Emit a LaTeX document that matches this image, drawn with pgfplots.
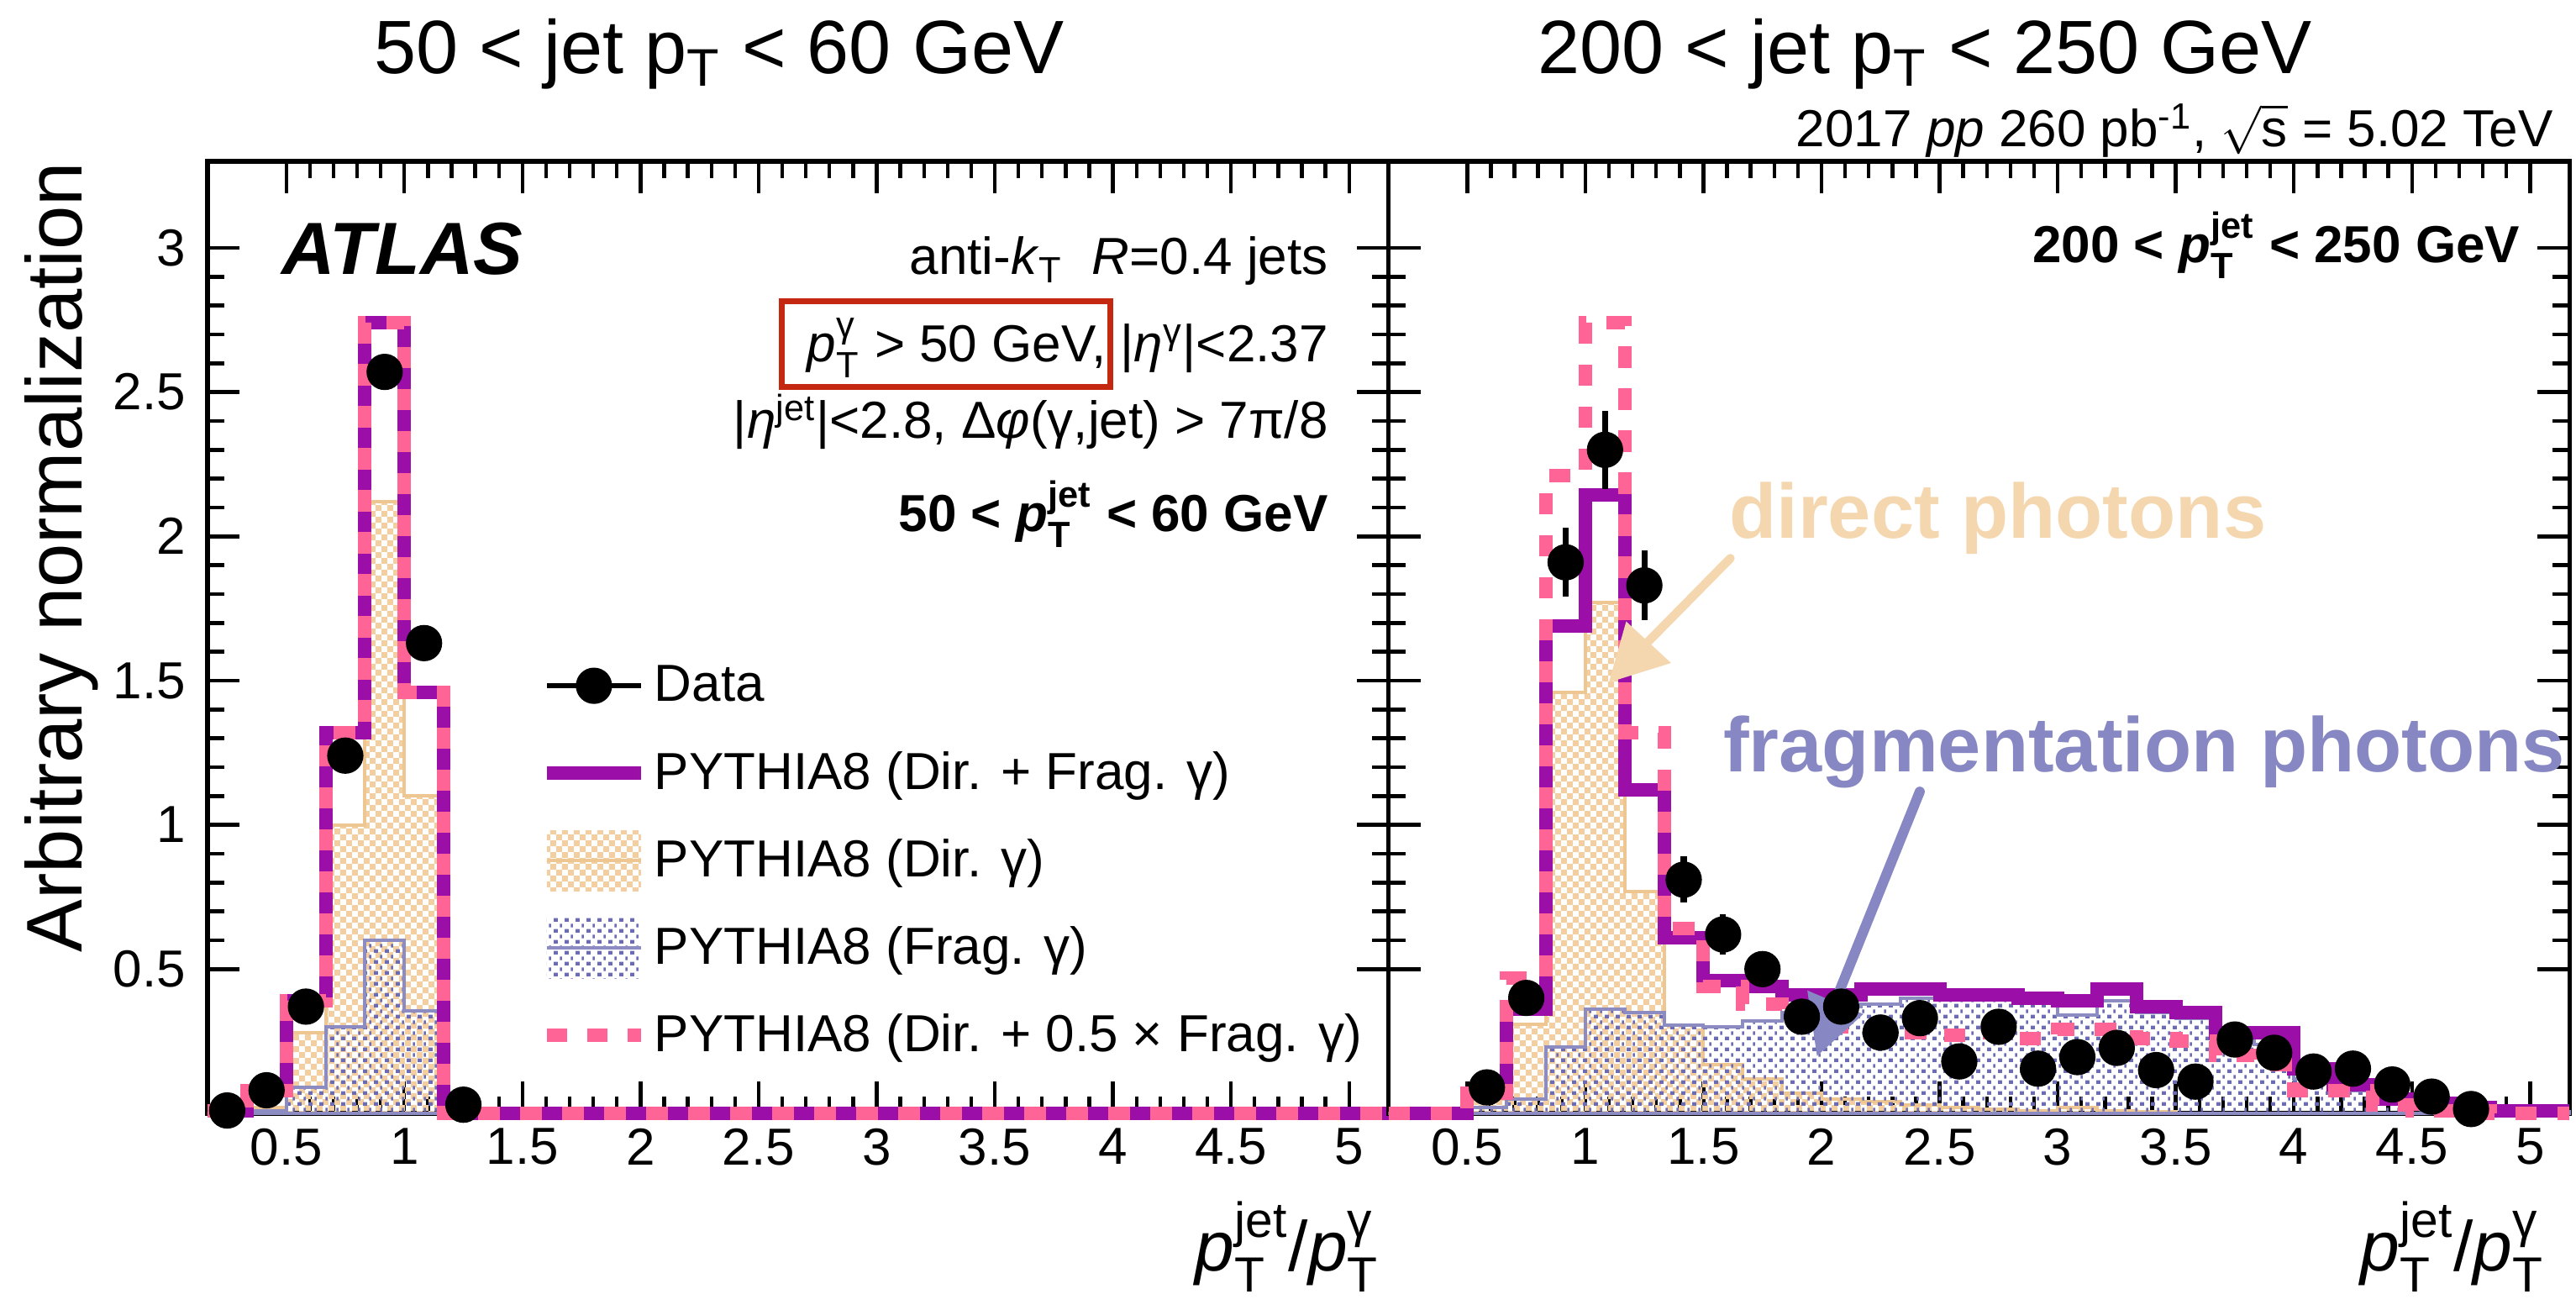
\documentclass[border=0pt]{standalone}
\usepackage{fontspec}
\setmainfont{Liberation Sans}
\usepackage{amsmath}
\usepackage{pgfplots}
\pgfplotsset{compat=1.18}
\usepackage{pgfplotstable}
\usetikzlibrary{patterns}

\definecolor{purp}{RGB}{155,14,168}
\definecolor{pinkc}{RGB}{255,100,150}
\definecolor{dirfill}{RGB}{242,206,160}
\definecolor{dirline}{RGB}{238,198,145}
\definecolor{fragc}{RGB}{108,108,182}
\definecolor{fragline}{RGB}{140,140,195}
\definecolor{dirtext}{RGB}{245,215,175}
\definecolor{fragtext}{RGB}{135,135,195}
\definecolor{redbox}{RGB}{196,40,16}

\pgfdeclarepatternformonly{finechecker}{\pgfqpoint{0pt}{0pt}}{\pgfqpoint{3.6pt}{3.6pt}}{\pgfqpoint{3.6pt}{3.6pt}}{%
  \pgfpathrectangle{\pgfqpoint{0pt}{0pt}}{\pgfqpoint{1.8pt}{1.8pt}}%
  \pgfpathrectangle{\pgfqpoint{1.8pt}{1.8pt}}{\pgfqpoint{1.8pt}{1.8pt}}%
  \pgfusepath{fill}}
\pgfdeclarepatternformonly{fragdots}{\pgfqpoint{0pt}{0pt}}{\pgfqpoint{3.3pt}{3.2pt}}{\pgfqpoint{3.3pt}{3.2pt}}{%
  \pgfpathrectangle{\pgfqpoint{0pt}{0pt}}{\pgfqpoint{1.3pt}{1.1pt}}%
  \pgfpathrectangle{\pgfqpoint{1.95pt}{1.6pt}}{\pgfqpoint{0.65pt}{1.1pt}}%
  \pgfusepath{fill}}

\newcommand{\sst}[2]{\ensuremath{^{\text{#1}}_{\text{#2}}}}
\newcommand{\rootfont}{\fontsize{15.5}{18}\selectfont}

% left panel: 50 < pT jet < 60 GeV  (x = left bin edge)
\pgfplotstableread{
x dirfrag dir frag half
0.16667 0.01 0.00 0.00 0.01
0.33333 0.08 0.02 0.01 0.08
0.5 0.39 0.28 0.09 0.39
0.66667 1.32 1.00 0.30 1.32
0.83333 2.74 2.12 0.60 2.74
1.0 1.46 1.10 0.355 1.46
1.16667 0 0 0 0
5.16667 0 0 0 0
}\histL

\pgfplotstableread{
x y e
0.25 0.01 0.005
0.41667 0.08 0.01
0.58333 0.37 0.02
0.75 1.24 0.03
0.91667 2.57 0.04
1.08333 1.63 0.03
1.25 0.03 0.005
}\dataL

% right panel: 200 < pT jet < 250 GeV
\pgfplotstableread{
x dirfrag dir frag half
0.16667 0 0 0 0
0.33333 0 0 0 0
0.5 0.07 0.05 0.02 0.07
0.66667 0.36 0.31 0.05 0.47
0.83333 1.69 1.46 0.23 2.21
1.0 2.145 1.77 0.36 2.74
1.16667 1.12 0.77 0.35 1.32
1.33333 0.61 0.305 0.305 0.64
1.5 0.46 0.17 0.30 0.44
1.66667 0.44 0.12 0.32 0.38
1.83333 0.41 0.07 0.35 0.33
2.0 0.41 0.05 0.37 0.30
2.16667 0.43 0.04 0.38 0.30
2.33333 0.43 0.03 0.40 0.28
2.5 0.41 0.02 0.40 0.27
2.66667 0.41 0.015 0.40 0.28
2.83333 0.40 0.01 0.39 0.26
3.0 0.39 0.02 0.34 0.29
3.16667 0.43 0.01 0.39 0.29
3.33333 0.37 0.005 0.35 0.26
3.5 0.35 0 0.33 0.25
3.66667 0.28 0 0.27 0.20
3.83333 0.28 0 0.24 0.17
4.0 0.155 0 0.12 0.08
4.16667 0.10 0 0.08 0.08
4.33333 0.05 0 0.045 0.03
4.5 0.035 0 0.03 0.01
4.66667 0.02 0 0.02 0.01
4.83333 0.01 0 0.01 0
5.0 0.01 0 0.005 0
5.16667 0.01 0 0.005 0
}\histR

\pgfplotstableread{
x y e
0.58333 0.09 0.02
0.75 0.40 0.04
0.91667 1.91 0.12
1.08333 2.30 0.135
1.25 1.83 0.12
1.41667 0.81 0.08
1.58333 0.62 0.07
1.75 0.50 0.05
1.91667 0.335 0.04
2.08333 0.37 0.04
2.25 0.28 0.035
2.41667 0.33 0.035
2.58333 0.18 0.03
2.75 0.30 0.03
2.91667 0.155 0.03
3.08333 0.195 0.03
3.25 0.227 0.03
3.41667 0.15 0.03
3.58333 0.11 0.03
3.75 0.256 0.03
3.91667 0.21 0.03
4.08333 0.145 0.03
4.25 0.155 0.03
4.41667 0.10 0.03
4.58333 0.058 0.02
4.75 0.015 0.02
}\dataR

\pgfplotsset{
  myax/.style={
    width=351.4pt, height=283.25pt, scale only axis, anchor=south west,
    xmin=0.1666667, xmax=5.1666667, ymin=0, ymax=3.3,
    xtick={0.5,1,...,5}, ytick={0.5,1,...,3},
    minor x tick num=4, minor y tick num=4,
    tick align=inside,
    major tick length=9.5pt, minor tick length=5pt,
    tick style={black, line width=1.1pt},
    axis line style={black, line width=1.3pt},
    tick label style={font=\rootfont},
    xticklabel style={yshift=-1pt},
    yticklabel style={xshift=-3pt},
    /pgf/number format/assume math mode=true,
    clip=false,
  },
  dirst/.style={const plot mark left, draw=dirline, line width=1pt, pattern=finechecker, pattern color=dirfill},
  fragst/.style={const plot mark left, draw=fragline, line width=1pt, pattern=fragdots, pattern color=fragc},
  purpst/.style={const plot mark left, draw=purp, line width=4pt},
  pinkst/.style={const plot mark left, draw=pinkc, line width=4pt, dash pattern=on 6.4pt off 6.1pt},
  datast/.style={only marks, mark=*, mark size=5.2pt, black, mark options={fill=black},
    error bars/.cd, y dir=both, y explicit, error mark=none,
    error bar style={line width=1.8pt, black}},
}

\begin{document}
\begin{tikzpicture}
\path[use as bounding box] (0,0) rectangle (766.5pt,389.75pt);

% ---------------- left panel ----------------
\begin{axis}[myax, at={(61.75pt,58.5pt)},
  legend style={at={(0.2817,0.4809)}, anchor=north west, draw=none, fill=none,
    inner sep=0pt, outer sep=0pt, row sep=8pt, font=\rootfont,
    nodes={inner sep=0pt},
    /tikz/every odd column/.append style={column sep=2pt}},
  legend cell align=left]

\addlegendimage{legend image code/.code={\path[draw=none,fill=none] (0pt,-9pt) rectangle (28pt,9pt);
  \draw[black,line width=1.5pt] (0pt,0pt) -- (28pt,0pt);
  \draw[black, mark=*, mark size=5.2pt, mark repeat=2, mark phase=2, mark options={fill=black}] plot coordinates {(0pt,0pt) (14pt,0pt) (28pt,0pt)};}}
\addlegendentry{Data}
\addlegendimage{legend image code/.code={\path[draw=none,fill=none] (0pt,-9pt) rectangle (28pt,9pt);
  \draw[purp,line width=4pt] (0pt,0pt) -- (28pt,0pt);}}
\addlegendentry{PYTHIA8 (Dir. + Frag. γ)}
\addlegendimage{legend image code/.code={\path[draw=none, pattern=finechecker, pattern color=dirfill] (0pt,-9pt) rectangle (28pt,9pt);
  \draw[dirline,line width=1pt] (0pt,0pt) -- (28pt,0pt);}}
\addlegendentry{PYTHIA8 (Dir. γ)}
\addlegendimage{legend image code/.code={\path[draw=none, pattern=fragdots, pattern color=fragc] (0pt,-9pt) rectangle (28pt,9pt);
  \draw[fragline,line width=1pt] (0pt,0pt) -- (28pt,0pt);}}
\addlegendentry{PYTHIA8 (Frag. γ)}
\addlegendimage{legend image code/.code={\path[draw=none,fill=none] (0pt,-9pt) rectangle (28pt,9pt);
  \draw[pinkc,line width=4pt,dash pattern=on 6pt off 6pt] (0pt,0pt) -- (28pt,0pt);}}
\addlegendentry{PYTHIA8 (Dir. + 0.5 × Frag. γ)}

\addplot[dirst] table[x=x,y=dir]{\histL} \closedcycle;
\addplot[fragst] table[x=x,y=frag]{\histL} \closedcycle;
\addplot[purpst] table[x=x,y=dirfrag]{\histL};
\addplot[pinkst] table[x=x,y=half]{\histL};
\addplot[datast] table[x=x,y=y,y error=e]{\dataL};

\node[anchor=base west, font=\fontsize{22}{26}\selectfont\bfseries\itshape, inner sep=0pt] at (axis cs:0.48,2.907) {ATLAS};
\node[anchor=base east, font=\rootfont, inner sep=0pt] at (axis cs:4.914,2.907) {anti-\textit{k}\textsubscript{T}\; \textit{R}=0.4 jets};
\node[anchor=base east, font=\rootfont, inner sep=0pt] at (axis cs:4.914,2.605) {\textit{p}\sst{γ}{T} > 50 GeV, |\textit{η}\textsuperscript{γ}|<2.37};
\node[anchor=base east, font=\rootfont, inner sep=0pt] at (axis cs:4.914,2.340) {|\textit{η}\textsuperscript{jet}|<2.8, Δ\textit{φ}(γ,jet) > 7π/8};
\node[anchor=base east, font=\rootfont\bfseries, inner sep=0pt] at (axis cs:4.914,2.017) {50 < \textit{p}\sst{jet}{T} < 60 GeV};
\draw[redbox, line width=1.7pt] (axis cs:2.599,2.814) rectangle (axis cs:3.990,2.517);

\node[rotate=90, anchor=east, inner sep=0pt, font=\fontsize{23.5}{28}\selectfont] at ([xshift=-43.5pt]axis description cs:0,1) {Arbitrary normalization};
\node[anchor=base east, inner sep=0pt, font=\fontsize{21}{25}\selectfont] at (axis cs:5.131,-0.547) {\textit{p}\sst{jet}{T}/\textit{p}\sst{γ}{T}};
\node[anchor=base, inner sep=0pt, font=\fontsize{22.5}{27}\selectfont] at (axis cs:2.332,3.605) {50 < jet p\textsubscript{T} < 60 GeV};
\end{axis}

% ---------------- right panel ----------------
\begin{axis}[myax, at={(413.15pt,58.5pt)}, yticklabels={}]
\addplot[dirst] table[x=x,y=dir]{\histR} \closedcycle;
\addplot[fragst] table[x=x,y=frag]{\histR} \closedcycle;
\addplot[purpst] table[x=x,y=dirfrag]{\histR};
\addplot[pinkst] table[x=x,y=half]{\histR};
\addplot[datast] table[x=x,y=y,y error=e]{\dataR};

\node[anchor=base east, font=\rootfont\bfseries, inner sep=0pt] at (axis cs:4.960,2.95) {200 < \textit{p}\sst{jet}{T} < 250 GeV};
\node[anchor=base east, font=\rootfont, inner sep=0pt] at (axis cs:5.099,3.352) {2017 \textit{pp} 260 pb\textsuperscript{-1}, $\sqrt{\text{s}}$ = 5.02 TeV};
\node[anchor=base east, inner sep=0pt, font=\fontsize{21}{25}\selectfont] at (axis cs:5.064,-0.547) {\textit{p}\sst{jet}{T}/\textit{p}\sst{γ}{T}};
\node[anchor=base, inner sep=0pt, font=\fontsize{22.5}{27}\selectfont] at (axis cs:2.439,3.605) {200 < jet p\textsubscript{T} < 250 GeV};

% annotations
\draw[dirtext, line width=2.6pt, line cap=round] (axis cs:1.614,1.924) -- (axis cs:1.265,1.634);
\fill[dirtext] (axis cs:1.173,1.705) -- (axis cs:1.363,1.561) -- (axis cs:1.100,1.494) -- cycle;
\node[anchor=base west, inner sep=0pt, text=dirtext, font=\fontsize{23}{27}\selectfont\bfseries] at (axis cs:1.607,1.994) {direct photons};
\draw[fragtext, line width=3pt, line cap=round] (axis cs:2.416,1.115) -- (axis cs:2.065,0.402);
\fill[fragtext] (axis cs:1.940,0.426) -- (axis cs:1.981,0.199) -- (axis cs:2.177,0.344) -- cycle;
\node[anchor=base west, inner sep=0pt, text=fragtext, font=\fontsize{23}{27}\selectfont\bfseries] at (axis cs:1.582,1.183) {fragmentation photons};
\end{axis}
\end{tikzpicture}
\end{document}
